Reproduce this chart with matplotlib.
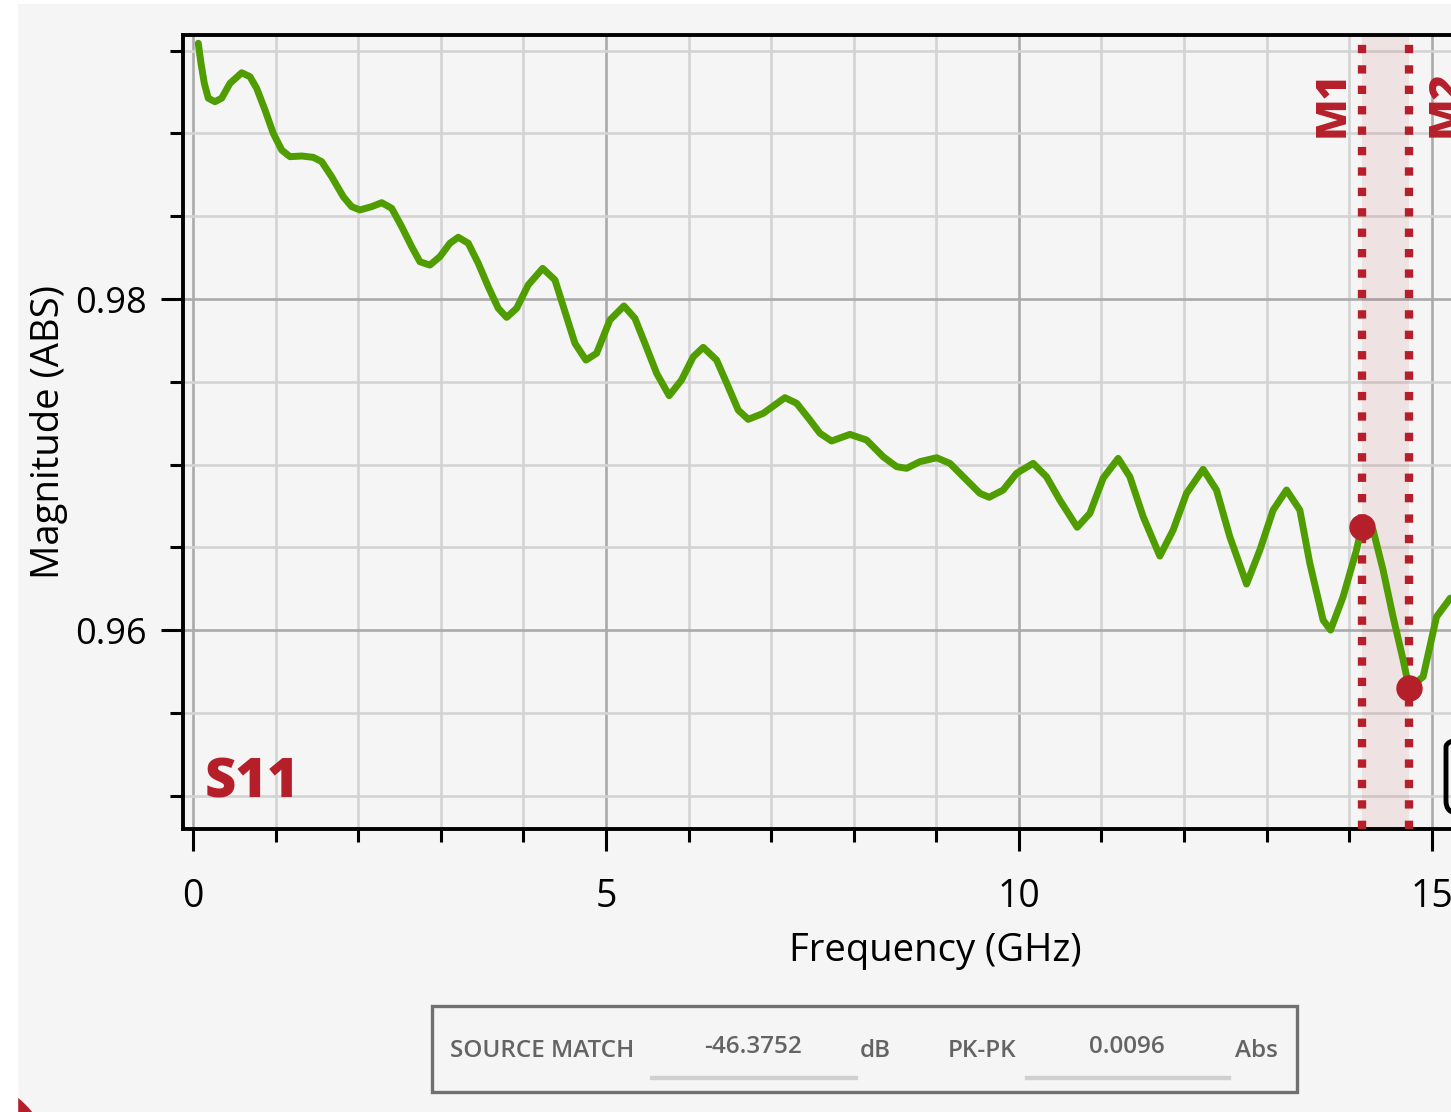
import matplotlib
matplotlib.use("Agg")
import matplotlib.pyplot as plt
from matplotlib.patches import Rectangle, FancyBboxPatch, Circle
from matplotlib.ticker import MultipleLocator, FormatStrFormatter

W, H = 1451, 1112

# S11 magnitude trace
freq = [0.064, 0.097, 0.137, 0.185, 0.266, 0.347, 0.448, 0.590, 0.690, 0.771,
        0.872, 0.972, 1.074, 1.174, 1.316, 1.456, 1.558, 1.679, 1.820, 1.921,
        2.022, 2.163, 2.285, 2.406, 2.527, 2.648, 2.748, 2.869, 2.990, 3.111,
        3.212, 3.333, 3.454, 3.575, 3.696, 3.798, 3.919, 4.059, 4.234, 4.383,
        4.504, 4.625, 4.758, 4.887, 5.048, 5.218, 5.351, 5.472, 5.614, 5.766,
        5.916, 6.057, 6.178, 6.340, 6.481, 6.602, 6.723, 6.904, 7.167, 7.309,
        7.470, 7.591, 7.732, 7.954, 8.156, 8.357, 8.519, 8.640, 8.801, 9.004,
        9.165, 9.367, 9.528, 9.640, 9.810, 9.972, 10.173, 10.335, 10.496, 10.706,
        10.860, 11.021, 11.202, 11.344, 11.505, 11.707, 11.868, 12.030, 12.231, 12.393,
        12.554, 12.757, 12.918, 13.079, 13.241, 13.402, 13.523, 13.684, 13.774, 13.926,
        14.088, 14.149, 14.213, 14.289, 14.410, 14.531, 14.653, 14.725, 14.895, 15.057,
        15.223, 15.400]
mag = [0.99545, 0.99424, 0.99303, 0.99213, 0.99192, 0.99213, 0.99303, 0.99367, 0.99343, 0.99273,
       0.99142, 0.99001, 0.98900, 0.98860, 0.98864, 0.98856, 0.98830, 0.98739, 0.98618, 0.98558,
       0.98538, 0.98558, 0.98582, 0.98548, 0.98437, 0.98316, 0.98225, 0.98205, 0.98256, 0.98337,
       0.98373, 0.98337, 0.98216, 0.98074, 0.97944, 0.97889, 0.97944, 0.98085, 0.98185, 0.98115,
       0.97923, 0.97732, 0.97631, 0.97672, 0.97873, 0.97958, 0.97883, 0.97732, 0.97551, 0.97416,
       0.97511, 0.97651, 0.97708, 0.97631, 0.97470, 0.97329, 0.97273, 0.97309, 0.97404, 0.97370,
       0.97269, 0.97189, 0.97142, 0.97182, 0.97148, 0.97047, 0.96987, 0.96977, 0.97017, 0.97041,
       0.97007, 0.96906, 0.96826, 0.96802, 0.96846, 0.96947, 0.97007, 0.96926, 0.96785, 0.96621,
       0.96705, 0.96918, 0.97037, 0.96926, 0.96685, 0.96447, 0.96604, 0.96826, 0.96971, 0.96846,
       0.96564, 0.96278, 0.96483, 0.96725, 0.96846, 0.96725, 0.96403, 0.96060, 0.96000, 0.96201,
       0.96483, 0.96621, 0.96628, 0.96604, 0.96363, 0.96080, 0.95819, 0.95648, 0.95718, 0.96080,
       0.96192, 0.96210]

marker_names = ["M1", "M2"]
marker_freq = [14.149, 14.725]
marker_mag = [0.96621, 0.95648]

box_labels = ["SOURCE MATCH", "-46.3752", "dB", "PK-PK", "0.0096", "Abs"]

red = "#b51f2a"
green = "#4f9d00"
bg = "#f5f5f5"

plt.rcParams['font.family'] = ['Open Sans', 'DejaVu Sans']

fig = plt.figure(figsize=(W / 100, H / 100), dpi=100, facecolor="white")

def px(x, y):
    # pixel position (from top-left) to inches for dpi_scale_trans
    return x / 100, (H - y) / 100

# grey panel behind everything
fig.patches.append(Rectangle(px(17, H), (W - 17) / 100, (H - 4) / 100,
                             transform=fig.dpi_scale_trans, color=bg, zorder=-10))
# red corner shape, bottom left
fig.patches.append(Circle(px(-50, 1180), 1.06, transform=fig.dpi_scale_trans,
                          color=red, zorder=-9))
fig.patches.append(Rectangle((0, 0), 0.17, H / 100, transform=fig.dpi_scale_trans,
                             color="white", zorder=-8))

# axes run past the right edge of the picture
left, right, top, bottom = 183, 1687, 35, 829
ax = fig.add_axes([left / W, 1 - bottom / H, (right - left) / W, (bottom - top) / H])
ax.set_facecolor(bg)

ax.set_xlim(-0.121, 18.09)
ax.set_ylim(0.94798, 0.99595)

ax.xaxis.set_major_locator(MultipleLocator(5))
ax.xaxis.set_minor_locator(MultipleLocator(1))
ax.yaxis.set_major_locator(MultipleLocator(0.02))
ax.yaxis.set_minor_locator(MultipleLocator(0.005))
ax.yaxis.set_major_formatter(FormatStrFormatter('%.2f'))

ax.grid(which='major', color='#aaaaaa', lw=1.9)
ax.grid(which='minor', color='#d4d4d4', lw=1.9)
ax.set_axisbelow(True)

for s in ax.spines.values():
    s.set_linewidth(2.8)
    s.set_color('black')

ax.tick_params(axis='x', which='major', length=16, width=2.2, pad=19, labelsize=27)
ax.tick_params(axis='x', which='minor', length=9.5, width=2.2)
ax.tick_params(axis='y', which='major', length=16, width=2.2, pad=10, labelsize=26)
ax.tick_params(axis='y', which='minor', length=9.5, width=2.2)

ax.set_xlabel("Frequency (GHz)", fontsize=27.5, labelpad=12)
ax.set_ylabel("Magnitude (ABS)", fontsize=27.5, labelpad=5)

# marker band and lines
ax.axvspan(marker_freq[0], marker_freq[1], color=red, alpha=0.085, lw=0, zorder=1)
for f in marker_freq:
    ax.axvline(f, color=red, lw=6, linestyle=(0, (1.0, 1.45)), zorder=3)

ax.plot(freq, mag, color=green, lw=5, zorder=4,
        solid_capstyle='round', solid_joinstyle='round')
ax.plot(marker_freq, marker_mag, 'o', ms=18, color=red, zorder=5)

ax.annotate(marker_names[0], (marker_freq[0], 0.98979), xytext=(-8, 0),
            textcoords='offset pixels', rotation=90, ha='right', va='bottom',
            fontsize=31, fontweight='heavy', color=red)
ax.annotate(marker_names[1], (marker_freq[1], 0.98979), xytext=(16, 0),
            textcoords='offset pixels', rotation=90, ha='left', va='bottom',
            fontsize=31, fontweight='heavy', color=red)

ax.text(0.145, 0.9499, "S11", fontsize=39, fontweight='heavy', color=red,
        ha='left', va='baseline')

# tooltip box peeking in at the right edge
fig.patches.append(FancyBboxPatch(px(1446, 813), 0.8, 0.78,
                                  boxstyle='round,pad=0,rounding_size=0.12',
                                  transform=fig.dpi_scale_trans, fc='none',
                                  ec='black', lw=3.5, zorder=10))

# readout box below the chart
fig.patches.append(Rectangle(px(432, 1092), (1297 - 432) / 100, (1092 - 1006) / 100,
                             transform=fig.dpi_scale_trans, fc=bg, ec='#707070',
                             lw=2.4, zorder=5))
for x0, x1 in [(650, 857), (1025, 1230)]:
    fig.patches.append(Rectangle(px(x0, 1079), (x1 - x0) / 100, 0.035,
                                 transform=fig.dpi_scale_trans, color='#d0d0d0', zorder=6))

box_pos = [(450, 1051, 'left'), (753, 1047, 'center'), (875, 1051, 'center'),
           (948, 1051, 'left'), (1127, 1047, 'center'), (1256, 1051, 'center')]
for lab, (x, y, ha) in zip(box_labels, box_pos):
    fig.text(x / W, 1 - y / H, lab, fontsize=17.5, color='#646464', fontweight='semibold',
             ha=ha, va='center', zorder=7)

fig.savefig("out.png", dpi=100, facecolor=fig.get_facecolor())
